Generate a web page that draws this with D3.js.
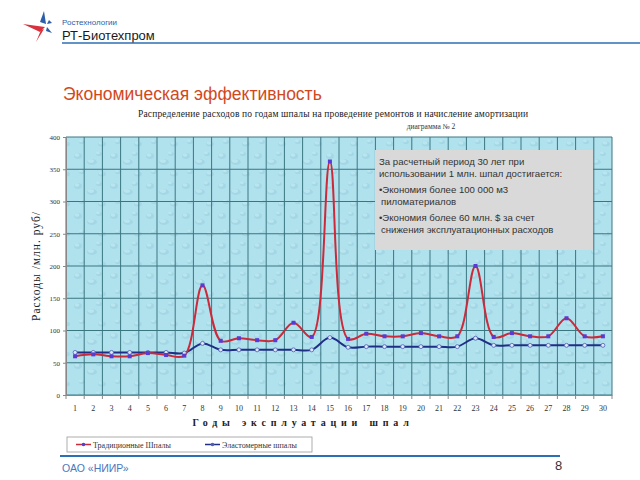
<!DOCTYPE html>
<html><head><meta charset="utf-8">
<script src="https://cdn.jsdelivr.net/npm/d3@7"></script>
<style>body{margin:0;background:#fff}svg{display:block}</style>
</head><body><svg id="c" width="640" height="480"></svg>
<script>
const years = d3.range(1, 31);
const traditional = [60,63,60,60,65,62,61,170,84,88,85,85,112,90,362,87,95,91,91,96,91,91,200,90,96,91,91,119,91,91];
const elastomer = [66,66,66,66,66,66,65,80,70,70,70,70,70,70,89,74,75,75,75,75,75,75,88,77,77,77,77,77,77,77];
const yTicks = [0,50,100,150,200,250,300,350,400];
const seriesNames = ["Традиционные Шпалы", "Эластомерные шпалы"];

const svg = d3.select("#c");
// Header / logo
const star = svg.append("g");
star.append("path").attr("d","M23,24 L45,27 L40,32 Z").attr("fill","#d9323f");
star.append("path").attr("d","M44,29 L36,42 L41,30 Z").attr("fill","#d9323f");
star.append("path").attr("d","M44,11 L46,24 L40,22 Z").attr("fill","#2d5fa8");
star.append("path").attr("d","M49,20 L52,23 L47,24 Z").attr("fill","#2d5fa8");
star.append("path").attr("d","M47,27 L52,33 L46,31 Z").attr("fill","#2d5fa8");
svg.append("text").attr("x",62).attr("y",25).attr("font-family","Arial, Liberation Sans").attr("font-size",8).attr("fill","#2d5fa8").text("Ростехнологии");
svg.append("text").attr("x",62).attr("y",40).attr("font-family","Arial, Liberation Sans").attr("font-size",13).attr("fill","#1a1a1a").text("РТ-Биотехпром");
svg.append("line").attr("x1",62).attr("x2",640).attr("y1",43).attr("y2",43).attr("stroke","#2d6fb5").attr("stroke-width",1.5);
svg.append("text").attr("x",63).attr("y",100).attr("font-family","Arial, Liberation Sans").attr("font-size",17.5).attr("fill","#d2481c").text("Экономическая эффективность");

// chart titles
svg.append("text").attr("x",333).attr("y",117).attr("text-anchor","middle").attr("font-family","Liberation Serif, Times New Roman").attr("font-size",9.5).attr("fill","#222").attr("textLength",390).text("Распределение расходов по годам шпалы на проведение ремонтов и начисление амортизации");
svg.append("text").attr("x",431).attr("y",129).attr("text-anchor","middle").attr("font-family","Liberation Serif, Times New Roman").attr("font-size",7.5).attr("fill","#333").text("диаграмма № 2");

const x = d3.scaleBand().domain(years).range([66, 612]);
const y = d3.scaleLinear().domain([0, 400]).range([395, 137]);
const cx = d => x(d) + x.bandwidth() / 2;

// plot background with texture
const defs = svg.append("defs");
const pat = defs.append("pattern").attr("id","tex").attr("patternUnits","userSpaceOnUse").attr("width",36).attr("height",30);
pat.append("rect").attr("width",36).attr("height",30).attr("fill","#b0e2ee");
[[6,6,4,3],[20,12,5,3],[30,24,4,2.5],[10,22,3,2],[27,4,3,2]].forEach(([a,b,rx,ry])=>{
  pat.append("ellipse").attr("cx",a).attr("cy",b).attr("rx",rx).attr("ry",ry).attr("fill","#9bd1df").attr("opacity",0.6);
  pat.append("ellipse").attr("cx",a-1).attr("cy",b-1).attr("rx",rx*0.6).attr("ry",ry*0.6).attr("fill","#c9eef5").attr("opacity",0.6);
});
svg.append("rect").attr("x",66).attr("y",137).attr("width",546).attr("height",258).attr("fill","url(#tex)");

// grid
const grid = svg.append("g").attr("stroke","#3a7680").attr("stroke-width",1);
grid.selectAll("line.h").data(yTicks).join("line").attr("x1",66).attr("x2",612).attr("y1",d=>y(d)).attr("y2",d=>y(d));
grid.selectAll("line.v").data(years.concat([31])).join("line")
  .attr("x1",d=>d<=30?x(d):612).attr("x2",d=>d<=30?x(d):612).attr("y1",137).attr("y2",395);

// axes
const yAxis = svg.append("g").attr("transform","translate(66,0)").call(d3.axisLeft(y).tickValues(yTicks).tickSize(3));
yAxis.select(".domain").attr("stroke","#888");
yAxis.selectAll("text").attr("font-family","Liberation Serif, Times New Roman").attr("font-size",7).attr("fill","#333");
yAxis.selectAll("line").attr("stroke","#888");
const xAxis = svg.append("g").attr("transform","translate(0,395)").call(d3.axisBottom(x).tickSize(0).tickPadding(10));
xAxis.select(".domain").attr("stroke","#888");
xAxis.selectAll("text").attr("font-family","Liberation Serif, Times New Roman").attr("font-size",8).attr("fill","#333");
svg.append("g").selectAll("line").data(years.concat([31])).join("line")
  .attr("x1",d=>d<=30?x(d):612).attr("x2",d=>d<=30?x(d):612).attr("y1",395).attr("y2",399).attr("stroke","#888");

svg.append("text").attr("transform","translate(40,266) rotate(-90)").attr("text-anchor","middle")
  .attr("font-family","Liberation Serif, Times New Roman").attr("font-size",11.5).attr("letter-spacing",1).attr("fill","#222").text("Расходы /млн. руб/");
svg.append("text").attr("x",303).attr("y",426).attr("text-anchor","middle")
  .attr("font-family","Liberation Serif, Times New Roman").attr("font-size",10).attr("font-weight","bold").attr("letter-spacing",4.8).attr("fill","#222")
  .text("Годы  эксплуатации  шпал");

// lines
const line = d3.line().x((d,i)=>cx(years[i])).y(d=>y(d)).curve(d3.curveCatmullRom.alpha(0.5));
svg.append("path").datum(elastomer).attr("d",line).attr("fill","none").attr("stroke","#1f2e86").attr("stroke-width",2);
svg.append("path").datum(traditional).attr("d",line).attr("fill","none").attr("stroke","#cc2a3a").attr("stroke-width",2);
svg.append("g").selectAll("circle").data(elastomer).join("circle")
  .attr("cx",(d,i)=>cx(years[i])).attr("cy",d=>y(d)).attr("r",2).attr("fill","#dde8ff").attr("stroke","#5060b0").attr("stroke-width",0.8);
svg.append("g").selectAll("rect").data(traditional).join("rect")
  .attr("x",(d,i)=>cx(years[i])-2).attr("y",d=>y(d)-2).attr("width",4).attr("height",4).attr("fill","#5a3ad0");

// note box
svg.append("rect").attr("x",375).attr("y",150).attr("width",218).attr("height",100).attr("fill","#d9d9d9");
const note = [["За расчетный период 30 лет при",165],["использовании 1 млн. шпал достигается:",177],["•Экономия более 100 000 м3",193],["пиломатериалов",205],["•Экономия более 60 млн. $ за счет",221],["снижения эксплуатационных расходов",233]];
svg.append("g").selectAll("text").data(note).join("text").attr("x",(d,i)=>(i===3||i===5)?381:379).attr("y",d=>d[1])
  .attr("font-family","Arial, Liberation Sans").attr("font-size",9.6).attr("fill","#333").text(d=>d[0]);

// legend
svg.append("rect").attr("x",67).attr("y",437).attr("width",245).attr("height",15).attr("fill","#fff").attr("stroke","#999").attr("stroke-width",0.8);
const lg = svg.append("g");
[[76,"#cc2a3a","#5a3ad0"],[205,"#1f2e86","#5060b0"]].forEach(([lx,lc,mc],i)=>{
  lg.append("line").attr("x1",lx).attr("x2",lx+15).attr("y1",444.5).attr("y2",444.5).attr("stroke",lc).attr("stroke-width",1.5);
  lg.append("circle").attr("cx",lx+7.5).attr("cy",444.5).attr("r",1.8).attr("fill",mc);
  lg.append("text").attr("x",lx+17).attr("y",447.5).attr("font-family","Liberation Serif, Times New Roman").attr("font-size",8).attr("fill","#333").text(seriesNames[i]);
});

// footer
svg.append("line").attr("x1",60).attr("x2",560).attr("y1",456).attr("y2",456).attr("stroke","#2d6fb5").attr("stroke-width",2);
svg.append("text").attr("x",62).attr("y",472).attr("font-family","Arial, Liberation Sans").attr("font-size",10.5).attr("fill","#4a78c0").text("ОАО «НИИР»");
svg.append("text").attr("x",555).attr("y",470).attr("font-family","Arial, Liberation Sans").attr("font-size",13).attr("fill","#333").text("8");
</script></body></html>
